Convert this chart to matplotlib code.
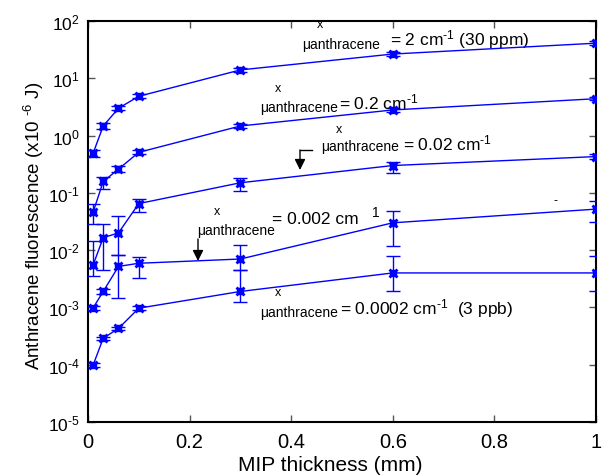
import matplotlib
matplotlib.use("Agg")
import matplotlib.pyplot as plt
import numpy as np

plt.rcParams['font.family'] = ['Liberation Sans', 'DejaVu Sans']
plt.rcParams['mathtext.fontset'] = 'custom'
plt.rcParams['mathtext.rm'] = 'Liberation Sans'
plt.rcParams['mathtext.it'] = 'Liberation Sans:italic'
plt.rcParams['mathtext.bf'] = 'Liberation Sans:bold'
plt.rcParams['mathtext.default'] = 'regular'

# ---- data ----
thickness = [0.01, 0.03, 0.06, 0.1, 0.3, 0.6, 1.0]

s_2 = [0.49, 1.47, 3.0, 4.85, 14.0, 26.5, 41.0]
s_2_lo = [0.42, 1.30, 2.75, 4.45, 12.9, 24.5, 38.0]
s_2_hi = [0.57, 1.68, 3.3, 5.3, 15.2, 28.6, 44.0]

s_02 = [0.046, 0.158, 0.26, 0.51, 1.47, 2.8, 4.4]
s_02_lo = [0.029, 0.118, 0.235, 0.47, 1.36, 2.6, 4.1]
s_02_hi = [0.064, 0.187, 0.29, 0.55, 1.6, 3.0, 4.8]

s_002 = [0.0055, 0.0165, 0.020, 0.065, 0.15, 0.30, 0.43]
s_002_lo = [0.0036, 0.0045, 0.0082, 0.046, 0.107, 0.22, 0.39]
s_002_hi = [0.0143, 0.029, 0.040, 0.079, 0.182, 0.35, 0.48]

s_0002 = [0.00098, 0.0019, 0.0052, 0.0059, 0.0070, 0.030, 0.052]
s_0002_lo = [0.00090, 0.00175, 0.00144, 0.0033, 0.0045, 0.0118, 0.0316]
s_0002_hi = [0.00107, 0.0021, 0.0082, 0.0077, 0.0123, 0.048, 0.073]

s_00002 = [0.000098, 0.00029, 0.00043, 0.00097, 0.0019, 0.0040, 0.0040]
s_00002_lo = [0.000090, 0.00027, 0.00040, 0.00090, 0.00126, 0.0019, 0.0019]
s_00002_hi = [0.000106, 0.00031, 0.00046, 0.00105, 0.0045, 0.0078, 0.0078]

series = [(s_2, s_2_lo, s_2_hi), (s_02, s_02_lo, s_02_hi),
          (s_002, s_002_lo, s_002_hi), (s_0002, s_0002_lo, s_0002_hi),
          (s_00002, s_00002_lo, s_00002_hi)]

x_ticks = [0, 0.2, 0.4, 0.6, 0.8, 1]
x_ticklabels = ['0', '0.2', '0.4', '0.6', '0.8', '1']
y_exponents = [-5, -4, -3, -2, -1, 0, 1, 2]

# ---- figure ----
W, H = 607, 477
fig = plt.figure(figsize=(W / 100, H / 100), dpi=100)
L, R, T, B = 88, 596, 22, 423
ax = fig.add_axes([L / W, 1 - B / H, (R - L) / W, (B - T) / H])

blue = '#0000ff'
for y, lo, hi in series:
    y = np.array(y); lo = np.array(lo); hi = np.array(hi)
    ax.errorbar(thickness, y, yerr=[y - lo, hi - y], fmt='-', color=blue,
                lw=1.0, elinewidth=1.0, capsize=5, capthick=1.0, zorder=3)
    ax.plot(thickness, y, 's', color=blue, ms=4, zorder=4)
    ax.plot(thickness, y, 'x', color=blue, ms=6, mew=2.0, zorder=4)

ax.set_yscale('log')
ax.set_xlim(0, 1)
ax.set_ylim(1e-5, 1e2)
ax.set_xticks(x_ticks)
ax.set_xticklabels(x_ticklabels)
ax.set_yticks([10.0 ** e for e in y_exponents])
ax.set_yticklabels(['$10^{%s}$' % str(e).replace('-', '\u2010') for e in y_exponents])
ax.yaxis.set_minor_locator(matplotlib.ticker.NullLocator())
ax.tick_params(direction='in', length=5, width=1, colors='#555555',
               labelcolor='black', top=True, right=True)
ax.tick_params(axis='y', pad=6, labelsize=12.5)
ax.tick_params(axis='x', pad=7, labelsize=14.5)
for sp in ax.spines.values():
    sp.set_linewidth(1.5)

fig.text(330.5 / W, 1 - 471.5 / H, 'MIP thickness (mm)', fontsize=15,
         ha='center', va='baseline')
fig.text(34 / W, 1 - 226 / H, 'Anthracene fluorescence (x10 $^{\u20106}$ J)',
         fontsize=13.5, rotation=90, ha='center', va='center')


def P(px, py):
    return ((px - L) / (R - L), (B - py) / (B - T))


def txt(px, py, s, size, ha='left'):
    ax.text(*P(px, py), s, transform=ax.transAxes, fontsize=size,
            ha=ha, va='center', clip_on=False)


# annotation 1
txt(317, 25, 'x', 9)
txt(302, 45, 'μanthracene', 10)
txt(390, 40, '= 2 cm$^{\u20101}$ (30 ppm)', 12.5)
# annotation 2
txt(275, 89, 'x', 9)
txt(260, 108, 'μanthracene', 10)
txt(339, 102, '= 0.2 cm$^{\u20101}$', 12.5)
# annotation 3
txt(336, 130, 'x', 9)
txt(321, 147, 'μanthracene', 10)
txt(403, 143, '= 0.02 cm$^{\u20101}$', 12.5)
# annotation 4
txt(214, 212, 'x', 9)
txt(197, 231, 'μanthracene', 10)
txt(272, 220, '= 0.002 cm', 12.5)
txt(372, 213, '1', 10)
txt(553, 201, '-', 9)
# annotation 5
txt(275, 293, 'x', 9)
txt(260, 313, 'μanthracene', 10)
txt(340, 309, '= 0.0002 cm$^{\u20101}$  (3 ppb)', 12.5)

# arrows
ax.plot(*zip(P(312, 151), P(300, 151)), color='k', lw=1, transform=ax.transAxes)
ax.annotate('', xy=P(300, 171), xytext=P(300, 151), xycoords='axes fraction',
            textcoords='axes fraction',
            arrowprops=dict(arrowstyle='-|>', color='k', lw=1, mutation_scale=16,
                            shrinkA=0, shrinkB=0))
ax.annotate('', xy=P(198, 262), xytext=P(198, 240), xycoords='axes fraction',
            textcoords='axes fraction',
            arrowprops=dict(arrowstyle='-|>', color='k', lw=1, mutation_scale=16,
                            shrinkA=0, shrinkB=0))

fig.savefig('out.png', dpi=100)
